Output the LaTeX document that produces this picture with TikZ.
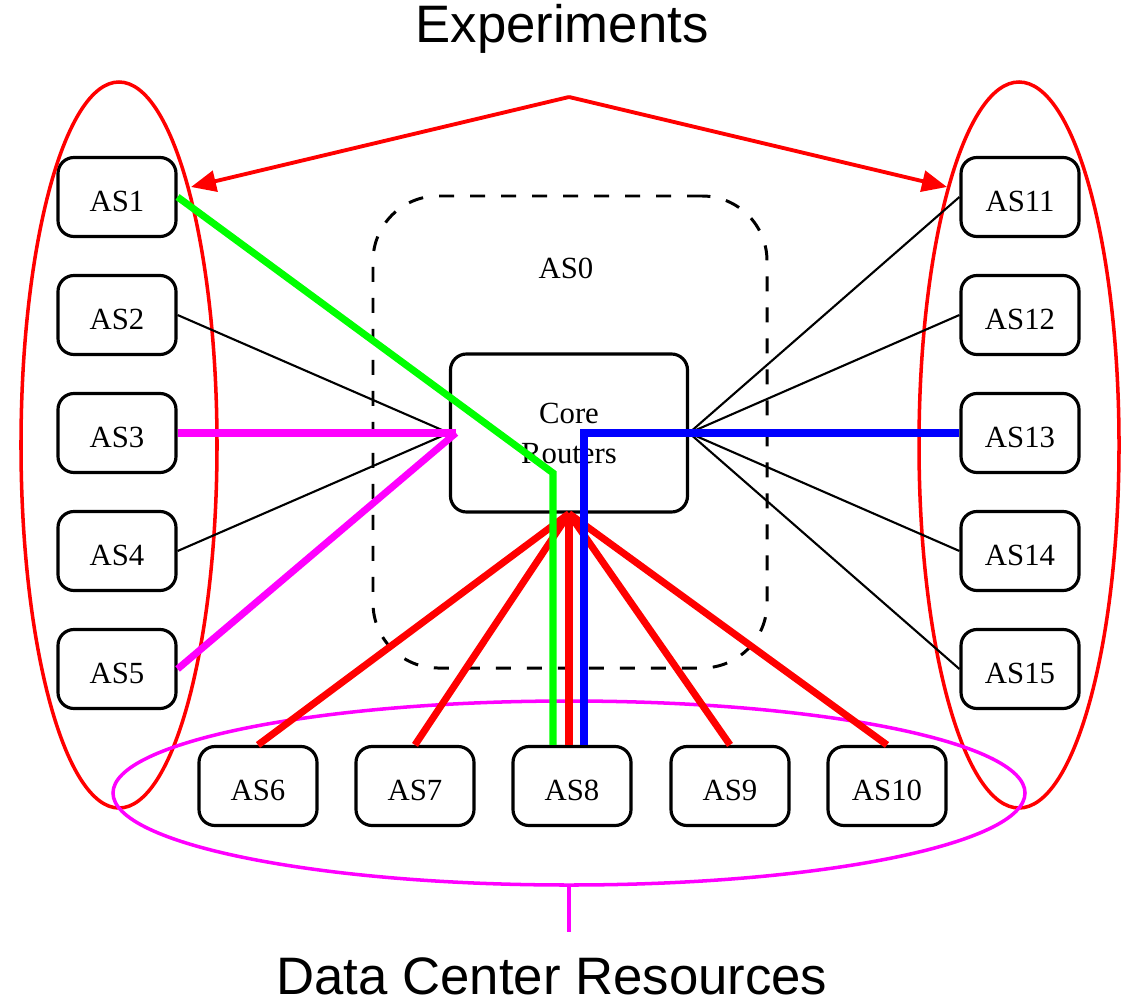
\documentclass[tikz,border=0pt]{standalone}
\usepackage{fontspec}
\setmainfont{Liberation Serif}
\setsansfont{Liberation Sans}
\usetikzlibrary{arrows.meta,calc,shapes.geometric}
\definecolor{expred}{HTML}{FF0000}
\definecolor{pathgreen}{HTML}{00FF00}
\definecolor{pathblue}{HTML}{0000FF}
\definecolor{dcmagenta}{HTML}{FF00FF}
\newcommand{\asfont}{\fontsize{17.5}{22.75}\selectfont}
\newcommand{\titlefont}{\sffamily\fontsize{30}{36}\selectfont}

\begin{document}
\begin{tikzpicture}[x=0.2mm,y=-0.2mm,
  boxbase/.style={draw,line width=1.8pt,rounded corners=0.32cm,minimum width=2.36cm,minimum height=1.58cm,inner sep=0pt,font=\asfont},
  asbox/.style={boxbase,text height=17pt,text depth=0pt},
  corebox/.style={boxbase,minimum width=4.74cm,minimum height=3.16cm,align=center},
  domainbox/.style={draw,dash pattern=on 0.3cm off 0.32cm,line width=1.7pt,rounded corners=1.3cm,minimum width=7.88cm,minimum height=9.44cm},
  group/.style={ellipse,draw,line width=2pt,inner sep=0pt},
  link/.style={line width=1.2pt},
  flow/.style={line width=4pt},
  exparrow/.style={expred,line width=2.2pt,-{Triangle[length=0.5cm,width=0.42cm]}},
  title/.style={font=\titlefont,anchor=base,inner sep=0pt,text depth=0pt}]
  \useasboundingbox (0,0) rectangle (1132,1006);

  % Titles
  \node[title] (exptitle) at (562,43) {Experiments};
  \node[title] (dctitle) at (552,994) {Data Center Resources};

  % AS0 and the core
  \node[domainbox] (as0) at (570,432) {};
  \node[font=\asfont] (as0label) at (566,268) {AS0};
  \node[corebox] (core) at (569,433) {Core\\Routers};

  % Left column
  \foreach \i/\y in {1/197,2/315,3/433,4/551,5/669}
    \node[asbox] (as\i) at (117,\y) {AS\i};
  % Right column
  \foreach \i/\y in {11/197,12/315,13/433,14/551,15/669}
    \node[asbox] (as\i) at (1020,\y) {AS\i};
  % Bottom row
  \foreach \i/\x in {6/258,7/415,8/572,9/730,10/887}
    \node[asbox] (as\i) at (\x,786) {AS\i};

  % Groups
  \node[group,expred,minimum width=3.92cm,minimum height=14.52cm] (lgroup) at (119,445) {};
  \node[group,expred,minimum width=4.0cm,minimum height=14.52cm] (rgroup) at (1019,445) {};
  \node[group,dcmagenta,minimum width=18.24cm,minimum height=3.68cm] (dcgroup) at (569,793) {};

  % Experiments arrows
  \coordinate (apex) at (569,97);
  \coordinate (ltip) at (191,187);
  \coordinate (rtip) at (947,187);
  \draw[exparrow] (apex) -- (ltip);
  \draw[exparrow] (apex) -- (rtip);

  % Data center stub
  \coordinate (dcstub) at (569,932);
  \draw[dcmagenta,line width=2.2pt] (dcgroup.south) -- (dcstub);

  % Plain links
  \foreach \a in {as2,as4}
    \draw[link] (\a.east) -- (core.west);
  \foreach \a in {as11,as12,as14,as15}
    \draw[link] (core.east) -- (\a.west);

  % Magenta links
  \coordinate (mhub) at ($(core.west)+(7,0)$);
  \draw[flow,dcmagenta] (as3.east) -- (mhub);
  \draw[flow,dcmagenta] (as5.east) -- (mhub);

  % Red links to the data centers
  \foreach \a in {as6,as7,as9,as10}
    \draw[flow,expred] (core.south) -- (\a.north);
  \draw[flow,expred] (core.south) -- (core.south |- as8.north);

  % Green path
  \coordinate (gbend) at ($(core.center)+(-16,40)$);
  \draw[flow,pathgreen] (as1.east) -- (gbend) -- (gbend |- as8.north);

  % Blue path
  \coordinate (bbend) at ($(core.center)+(15,0)$);
  \draw[flow,pathblue] (as13.west) -- (bbend) -- (bbend |- as8.north);
\end{tikzpicture}
\end{document}
